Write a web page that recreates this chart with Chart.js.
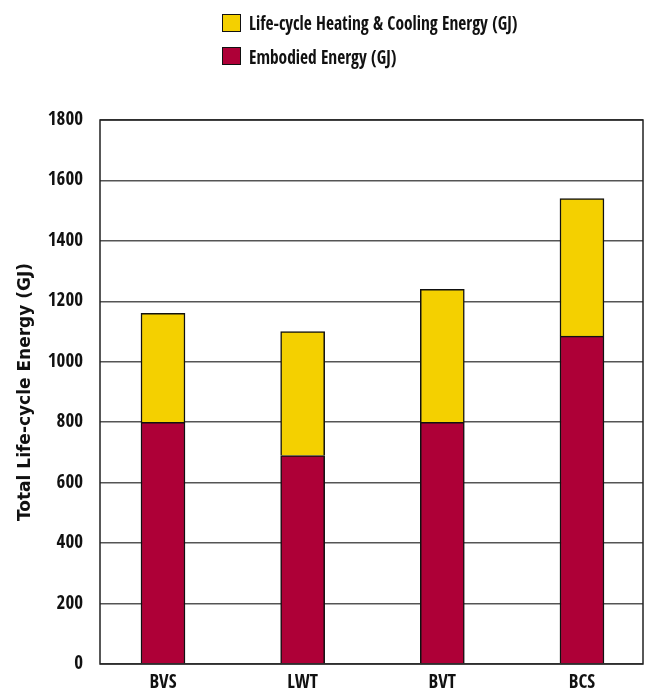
<!DOCTYPE html>
<html>
<head>
<meta charset="utf-8">
<script src="https://cdn.jsdelivr.net/npm/chart.js@4.4.0/dist/chart.umd.min.js"></script>
<style>
  html, body { margin: 0; padding: 0; background: #fff; }
  #wrap { position: relative; width: 645px; height: 693px; }
  #legend { position: absolute; left: 222px; top: 6px; font-family: "Open Sans Condensed", "Roboto Condensed", sans-serif; font-weight: 700; font-size: 20px; color: #111; }
  .item { display: flex; align-items: center; height: 33.5px; white-space: nowrap; }
  .box { width: 17px; height: 16px; border: 1px solid #111; margin-right: 8px; flex: none; }
  .item span { display: inline-block; transform: scaleX(0.87); transform-origin: left center; }
</style>
</head>
<body>
<div id="wrap">
  <canvas id="c" width="645" height="693"></canvas>
  <div id="legend"></div>
</div>
<script>
const categories = ['BVS', 'LWT', 'BVT', 'BCS'];
const embodiedEnergy = [800, 690, 800, 1085];
const heatingCoolingEnergy = [360, 410, 440, 455];
const seriesLabels = ['Life-cycle Heating & Cooling Energy (GJ)', 'Embodied Energy (GJ)'];
const yMin = 0, yMax = 1800, yStep = 200;

const YELLOW = '#F4D000';
const CRIMSON = '#AE0037';
const COND = '"Open Sans Condensed", "Roboto Condensed", sans-serif';

const frame = {
  id: 'frame',
  afterDatasetsDraw(chart) {
    const a = chart.chartArea, ctx = chart.ctx;
    ctx.save();
    ctx.strokeStyle = '#222';
    ctx.lineWidth = 1.5;
    ctx.strokeRect(a.left, a.top, a.right - a.left, a.bottom - a.top);
    ctx.restore();
  }
};

const chart = new Chart(document.getElementById('c'), {
  type: 'bar',
  data: {
    datasets: [
      { label: seriesLabels[1], data: embodiedEnergy.map((v, i) => ({ x: i, y: v })), backgroundColor: CRIMSON, borderColor: '#111', borderWidth: 1.5, barThickness: 44 },
      { label: seriesLabels[0], data: heatingCoolingEnergy.map((v, i) => ({ x: i, y: v })), backgroundColor: YELLOW, borderColor: '#111', borderWidth: 1.5, barThickness: 44 }
    ]
  },
  options: {
    responsive: false,
    animation: false,
    layout: { padding: { top: 120, right: 2, left: 0, bottom: 0 } },
    plugins: { legend: { display: false }, tooltip: { enabled: false } },
    scales: {
      x: {
        type: 'linear', stacked: true, min: -0.451, max: 3.437, offset: false,
        afterBuildTicks(s) { s.ticks = categories.map((_, i) => ({ value: i })); },
        afterFit(s) { s.height = 29; },
        grid: { display: false, drawTicks: false },
        border: { display: false },
        ticks: {
          padding: 8, color: '#111', autoSkip: false, maxRotation: 0,
          font: { family: COND, size: 19, weight: 'bold' },
          callback: (v) => categories[v]
        }
      },
      y: {
        stacked: true, min: yMin, max: yMax,
        afterFit(s) { s.width = 100; },
        grid: { color: '#555', lineWidth: 1.5, drawTicks: false },
        border: { display: false },
        ticks: {
          stepSize: yStep, padding: 17, color: '#111',
          font: { family: COND, size: 19, weight: 'bold' },
          callback: (v) => String(v)
        },
        title: {
          display: true, text: 'Total Life-cycle Energy (GJ)', color: '#111',
          padding: { top: 15, bottom: 0 },
          font: { family: '"DejaVu Sans", sans-serif', size: 17, weight: 'bold' }
        }
      }
    }
  },
  plugins: [frame]
});

// HTML legend built from the datasets (top series first)
const legend = document.getElementById('legend');
[...chart.data.datasets].reverse().forEach(ds => {
  const it = document.createElement('div');
  it.className = 'item';
  const b = document.createElement('div');
  b.className = 'box';
  b.style.background = ds.backgroundColor;
  const t = document.createElement('span');
  t.textContent = ds.label;
  it.appendChild(b); it.appendChild(t);
  legend.appendChild(it);
});
</script>
</body>
</html>
